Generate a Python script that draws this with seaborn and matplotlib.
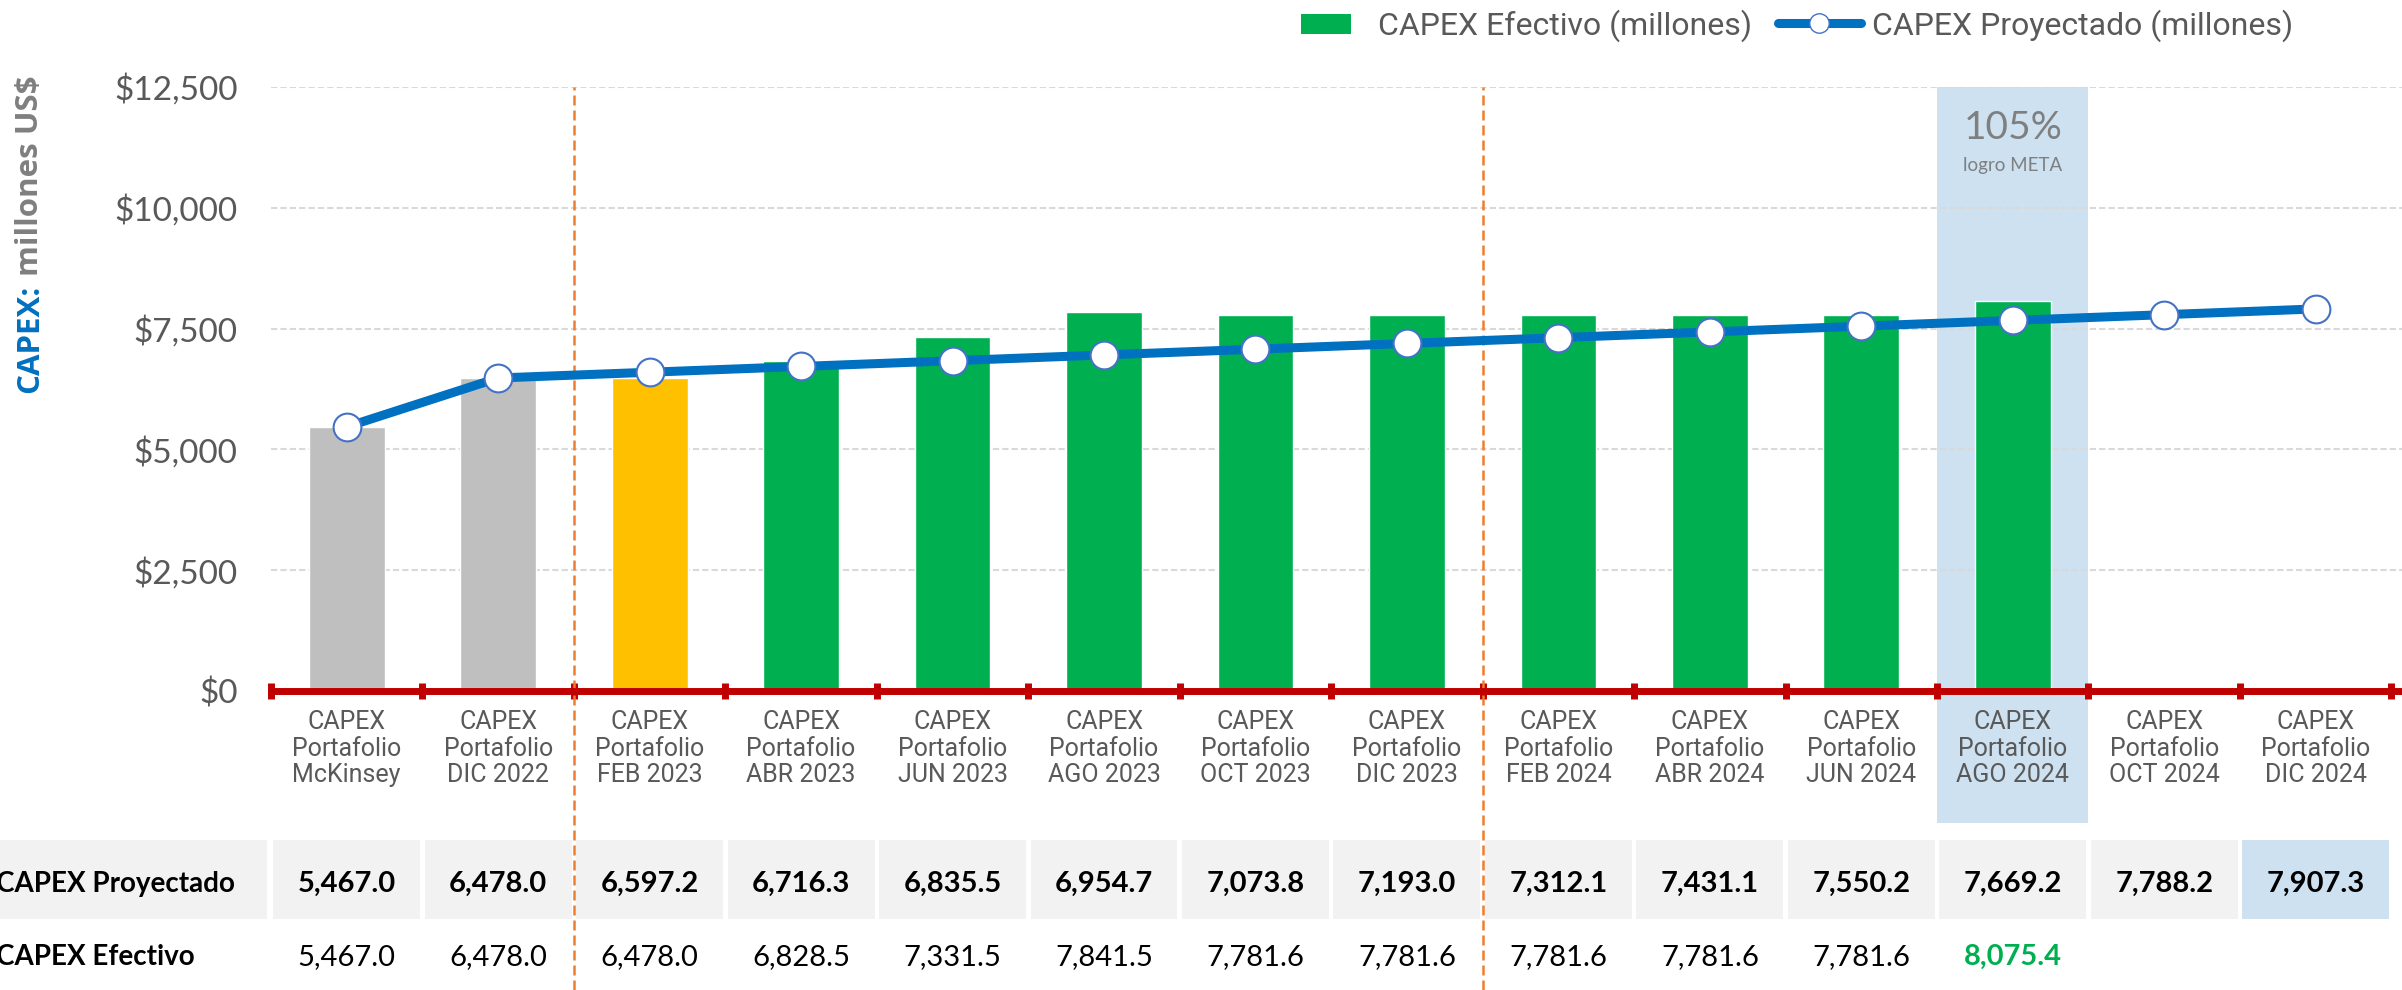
import numpy as np
import pandas as pd
import matplotlib
matplotlib.use("Agg")
import matplotlib.pyplot as plt
from matplotlib.patches import Rectangle, Patch
from matplotlib.lines import Line2D
from matplotlib.legend_handler import HandlerPatch
import seaborn as sns

CATEGORIES = ["McKinsey", "DIC 2022", "FEB 2023", "ABR 2023", "JUN 2023", "AGO 2023",
              "OCT 2023", "DIC 2023", "FEB 2024", "ABR 2024", "JUN 2024", "AGO 2024",
              "OCT 2024", "DIC 2024"]
PROYECTADO = [5467.0, 6478.0, 6597.2, 6716.3, 6835.5, 6954.7, 7073.8,
              7193.0, 7312.1, 7431.1, 7550.2, 7669.2, 7788.2, 7907.3]
EFECTIVO = [5467.0, 6478.0, 6478.0, 6828.5, 7331.5, 7841.5, 7781.6,
            7781.6, 7781.6, 7781.6, 7781.6, 8075.4, np.nan, np.nan]
BAR_COLORS = ["#BFBFBF", "#BFBFBF", "#FFC000"] + ["#00B050"] * 11
Y_TICKS = [0, 2500, 5000, 7500, 10000, 12500]
PERIOD_BREAKS = [1.5, 7.5]
META_INDEX = 11
META_PCT = "105%"
META_TEXT = "logro META"

W, H = 2402, 990
GRAY = "#595959"
BLUE_BG = "#CDE1F1"


def px_x(px):
    return px / W


def px_y(px):
    return 1 - px / H


def small_patch(legend, orig_handle, xdescent, ydescent, width, height, fontsize):
    w, h = width * 0.6, height * 0.8
    return Rectangle((-xdescent + (width - w) / 2, -ydescent + (height - h) / 2), w, h)


def main() -> None:
    sns.set_theme(style="white")
    plt.rcParams["font.family"] = ["Roboto", "DejaVu Sans"]

    fig = plt.figure(figsize=(W / 100, H / 100), dpi=100)
    ax = fig.add_axes([px_x(271), px_y(691), 1 - px_x(271), (691 - 87) / H])

    # axes-fraction helper for things drawn below the plot
    def ax_y(px):
        return (691 - px) / (691 - 87)

    df = pd.DataFrame({"periodo": CATEGORIES, "efectivo": EFECTIVO})
    xform = ax.get_xaxis_transform()

    # highlighted column (meta reached)
    ax.add_patch(Rectangle((META_INDEX - 0.5, ax_y(823)), 1, 1 - ax_y(823),
                           transform=xform, facecolor=BLUE_BG, lw=0,
                           zorder=0.1, clip_on=False))

    sns.barplot(data=df, x="periodo", y="efectivo", hue="periodo", order=CATEGORIES,
                palette=dict(zip(CATEGORIES, BAR_COLORS)), saturation=1,
                width=0.5, legend=False, ax=ax, zorder=2)

    sns.lineplot(x=np.arange(len(CATEGORIES)), y=PROYECTADO, ax=ax, color="#0070C0",
                 linewidth=6.5, marker="o", markersize=20, markerfacecolor="white",
                 markeredgecolor="#4472C4", markeredgewidth=1.5, zorder=3)

    ax.set_xlim(-0.5, 13.57)
    ax.set_ylim(0, 12500)
    ax.set_xlabel("")
    ax.set_ylabel("")

    ax.set_yticks(Y_TICKS)
    ax.set_yticklabels([f"${v:,.0f}" for v in Y_TICKS], family=["Lato", "DejaVu Sans"],
                       fontsize=24, color=GRAY)
    ax.tick_params(axis="y", length=0, pad=24)

    ax.set_xticks(range(len(CATEGORIES)))
    ax.set_xticklabels([f"CAPEX\nPortafolio\n{c}" for c in CATEGORIES],
                       fontsize=18, color=GRAY, linespacing=1.12)
    ax.tick_params(axis="x", which="major", length=0, pad=14)
    ax.set_xticks(np.arange(-0.5, len(CATEGORIES), 1), minor=True)
    ax.tick_params(axis="x", which="minor", bottom=True, length=11, width=5,
                   color="#C00000", direction="inout")

    ax.yaxis.grid(True, linestyle=(0, (3, 1.5)), color="#D9D9D9", linewidth=1.5)
    ax.set_axisbelow(True)
    for side in ["top", "left", "right"]:
        ax.spines[side].set_visible(False)
    ax.spines["bottom"].set_color("#C00000")
    ax.spines["bottom"].set_linewidth(5)
    ax.spines["bottom"].set_zorder(4)

    # period separators
    for b in PERIOD_BREAKS:
        ax.axvline(b, ymin=ax_y(H), ymax=1, color="#ED7D31", linestyle=(0, (4, 2)),
                   linewidth=1.8, clip_on=False, zorder=1)

    # meta annotation
    ax.text(META_INDEX, (691 - 128) / 604 * 12500, META_PCT, ha="center", va="center",
            fontsize=28, color="#7F7F7F", family=["Lato", "DejaVu Sans"])
    ax.text(META_INDEX, (691 - 166) / 604 * 12500, META_TEXT, ha="center", va="center",
            fontsize=13.5, color="#7F7F7F", family=["Lato", "DejaVu Sans"])

    # data table
    band_top, band_bot = 840, 919
    gap = 0.015
    for i in range(len(CATEGORIES)):
        cell_color = BLUE_BG if i == len(CATEGORIES) - 1 else "#F2F2F2"
        ax.add_patch(Rectangle((i - 0.5 + gap, ax_y(band_bot)), 1 - 2 * gap,
                               ax_y(band_top) - ax_y(band_bot), transform=xform,
                               facecolor=cell_color, lw=0, zorder=0.1, clip_on=False))
    fig.patches.append(Rectangle((0, px_y(band_bot)), px_x(267), px_y(band_top) - px_y(band_bot),
                                 transform=fig.transFigure, facecolor="#F2F2F2", lw=0))

    table_font = ["Lato", "DejaVu Sans"]
    fig.text(px_x(-4), px_y(884), "CAPEX Proyectado", ha="left", va="center",
             fontsize=20, fontweight="bold", family=table_font, color="black")
    fig.text(px_x(-4), px_y(957), "CAPEX Efectivo", ha="left", va="center",
             fontsize=20, fontweight="bold", family=table_font, color="black")

    for i, v in enumerate(PROYECTADO):
        ax.text(i, ax_y(884), f"{v:,.1f}", transform=xform, ha="center", va="center",
                fontsize=21, fontweight="bold", family=table_font, color="black",
                clip_on=False)
    for i, v in enumerate(EFECTIVO):
        if np.isnan(v):
            continue
        is_meta = i == META_INDEX
        ax.text(i, ax_y(957), f"{v:,.1f}", transform=xform, ha="center", va="center",
                fontsize=21, fontweight="bold" if is_meta else "normal",
                family=table_font, color="#00B050" if is_meta else "black",
                clip_on=False)

    # legend
    handles = [
        Patch(facecolor="#00B050", edgecolor="none", label="CAPEX Efectivo (millones)"),
        Line2D([], [], color="#0070C0", lw=6.5, marker="o", markersize=14,
               markerfacecolor="white", markeredgecolor="#4472C4",
               label="CAPEX Proyectado (millones)"),
    ]
    fig.legend(handles=handles, loc="center right", bbox_to_anchor=(px_x(2322), px_y(26)),
               ncol=2, frameon=False, fontsize=23, labelcolor=GRAY,
               handlelength=2.6, handleheight=0.8, columnspacing=0.8, handletextpad=0.35,
               handler_map={Patch: HandlerPatch(patch_func=small_patch)})

    # y-axis title in two colours
    ylab_font = ["Open Sans", "DejaVu Sans"]
    t1 = fig.text(px_x(30), px_y(393), "CAPEX:", rotation=90, ha="center", va="bottom",
                  fontsize=22.5, fontweight="bold", color="#0070C0", family=ylab_font)
    fig.canvas.draw()
    bb = t1.get_window_extent()
    fig.text(px_x(30), (bb.y1 + 9) / fig.bbox.height, "millones US$", rotation=90,
             ha="center", va="bottom", fontsize=22.5, fontweight="bold", color="#7F7F7F",
             family=ylab_font)

    fig.savefig("out.png", dpi=100)
    plt.close(fig)


if __name__ == "__main__":
    main()
